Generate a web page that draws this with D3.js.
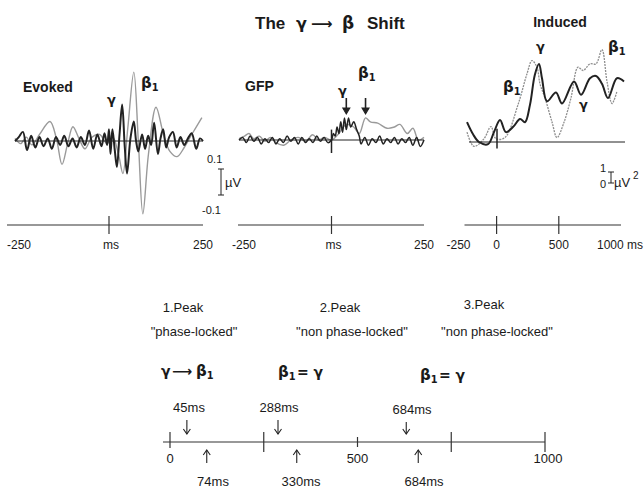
<!DOCTYPE html>
<html>
<head>
<meta charset="utf-8">
<script src="https://cdn.jsdelivr.net/npm/d3@7"></script>
<style>
  body { margin: 0; background: #fff; }
  text { font-family: "Liberation Sans", Arial, sans-serif; fill: #1a1a1a; }
  .bold { font-weight: bold; }
  .greek { font-family: "DejaVu Sans", sans-serif; font-weight: bold; }
</style>
</head>
<body>
<svg id="chart"></svg>
<script>
let w = 644;
let h = 490;
let svg;

// Evoked panel: [ms, µV]
let evokedGamma = [
  [-250, 0], [-240, 0.03], [-229, 0.07], [-218, -0.07], [-207, 0.04], [-196, -0.05],
  [-185, 0.03], [-174, -0.04], [-163, 0.02], [-152, -0.06], [-141, 0.03], [-130, -0.03],
  [-119, 0.04], [-108, -0.04], [-97, 0.02], [-86, -0.05], [-75, 0.03], [-64, -0.03],
  [-53, 0.08], [-42, -0.06], [-31, 0.05], [-20, -0.04], [-12, 0.06], [-5, -0.03],
  [0, 0.09], [4, -0.1], [9, 0.09], [15, -0.06], [21, -0.2], [28, 0.05], [35, 0.28],
  [42, -0.05], [48, -0.25], [57, 0.02], [66, 0.15], [72, 0.0], [78, -0.08], [88, 0.05],
  [96, -0.06], [104, 0.04], [112, -0.03], [120, 0.14], [130, -0.1], [137, 0.02],
  [144, 0.09], [152, -0.05], [160, 0.03], [170, 0.07], [180, -0.05], [190, 0.03],
  [200, -0.03], [210, 0.02], [220, 0.06], [232, -0.06], [242, 0.02], [250, 0]
];
let evokedBeta = [
  [-250, 0.02], [-235, -0.02], [-220, 0.03], [-205, -0.03], [-185, 0.05], [-157, 0.15],
  [-140, 0.02], [-125, -0.18], [-110, -0.02], [-96, 0.11], [-80, 0.02], [-64, -0.06],
  [-45, 0.03], [-25, 0.05], [-5, -0.02], [10, 0.03], [25, -0.1], [37, -0.25], [50, 0.1],
  [66, 0.53], [78, 0.0], [90, -0.56], [105, -0.1], [125, 0.26], [145, 0.05], [162, -0.08],
  [181, -0.12], [200, -0.05], [220, 0.05], [247, 0.18]
];

// GFP panel: [ms, µV]
let gfpGamma = [
  [-250, 0], [-240, 0.02], [-230, -0.02], [-220, 0.03], [-210, -0.01], [-200, 0.02],
  [-190, -0.03], [-180, 0.01], [-170, -0.02], [-160, 0.02], [-150, -0.03], [-140, 0.01],
  [-130, -0.02], [-120, 0.03], [-110, -0.01], [-100, 0.02], [-90, -0.03], [-80, 0.02],
  [-70, -0.02], [-60, 0.01], [-50, -0.02], [-40, 0.03], [-30, -0.01], [-20, 0.02],
  [-10, -0.02], [0, 0], [5, 0.05], [10, 0.03], [15, 0.1], [20, 0.05], [25, 0.14],
  [30, 0.06], [35, 0.17], [40, 0.08], [46, 0.17], [52, 0.1], [60, 0.14], [68, 0.08],
  [75, 0.03], [80, -0.03], [90, 0.02], [100, -0.04], [110, 0.01], [120, -0.02],
  [130, 0.03], [140, -0.03], [150, 0.01], [160, -0.02], [170, 0.02], [180, -0.03],
  [190, 0.01], [200, -0.02], [210, 0.02], [220, -0.04], [230, 0.02], [240, -0.05], [250, 0]
];
let gfpBeta = [
  [-250, 0.01], [-235, 0.03], [-223, 0.05], [-210, 0.01], [-195, 0.03], [-180, -0.01],
  [-165, 0.02], [-150, -0.02], [-129, -0.04], [-110, 0.0], [-90, 0.02], [-70, -0.01],
  [-51, 0.04], [-35, 0.0], [-20, 0.02], [0, 0.0], [20, 0.05], [40, 0.12], [60, 0.1],
  [75, 0.05], [92, 0.17], [105, 0.14], [125, 0.13], [150, 0.09], [170, 0.1], [185, 0.12],
  [205, 0.05], [220, 0.09], [235, 0.0], [250, 0.02]
];

// Induced panel: [ms, µV²]
let inducedGamma = [
  [-238, 1.8], [-190, 0.7], [-143, 0], [-71, -0.2], [-24, 0.9], [24, 2.0], [71, 0.9],
  [130, 1.4], [183, 2.1], [222, 1.8], [262, 3.4], [300, 6.1], [333, 7.1], [357, 5.8],
  [397, 3.7], [468, 4.5], [516, 3.5], [611, 5.5], [667, 4.3], [738, 5.8], [786, 6.0],
  [833, 5.3], [881, 4.0], [952, 5.8], [1008, 5.5]
];
let inducedBeta = [
  [-238, 0.9], [-183, -0.4], [-103, 0.3], [-48, 1.4], [-8, 0.3], [63, 0.4], [167, 3.4],
  [238, 6.2], [278, 7.4], [317, 6.8], [341, 5.3], [381, 4.0], [437, 1.8], [476, 0.4],
  [532, 1.8], [587, 4.0], [643, 6.8], [683, 6.5], [738, 7.1], [786, 7.1], [833, 8.4],
  [873, 5.5], [913, 3.5], [952, 4.6]
];

// Peak summary timeline
let peakNames = ['1.Peak', '2.Peak', '3.Peak'];
let peakKinds = ['"phase-locked"', '"non phase-locked"', '"non phase-locked"'];
let gammaLabels = ['45ms', '288ms', '684ms'];
let gammaArrows = [45, 288, 630];
let betaLabels = ['74ms', '330ms', '684ms'];
let betaArrows = [98, 338, 662];
let timelineTicks = [0, 250, 500, 750, 1000];
let timelineLabels = [0, 500, 1000];

function drawCurve(data, x, y, color, width, dash) {
  let line = d3.line()
    .x(d => x(d[0]))
    .y(d => y(d[1]))
    .curve(d3.curveCatmullRom);
  svg.append('path')
    .attr('d', line(data))
    .attr('fill', 'none')
    .attr('stroke', color)
    .attr('stroke-width', width)
    .attr('stroke-dasharray', dash || null)
    .attr('stroke-linejoin', 'round');
}

function timeAxis(x, yPos, ticks, pad) {
  let r = x.range();
  svg.append('line')
    .attr('x1', r[0] - pad).attr('x2', r[1])
    .attr('y1', yPos).attr('y2', yPos)
    .attr('stroke', '#333').attr('stroke-width', 1.2);
  svg.selectAll(null)
    .data(ticks)
    .enter()
    .append('line')
    .attr('x1', d => x(d)).attr('x2', d => x(d))
    .attr('y1', yPos - 9).attr('y2', yPos + 9)
    .attr('stroke', '#333').attr('stroke-width', 1.2);
}

function label(x, y, str, size, cls, anchor) {
  return svg.append('text')
    .attr('x', x).attr('y', y)
    .attr('font-size', size)
    .attr('class', cls || null)
    .attr('text-anchor', anchor || 'middle')
    .text(str);
}

function greek(x, y, str, size, sub) {
  let t = svg.append('text')
    .attr('x', x).attr('y', y)
    .attr('font-size', size)
    .attr('class', 'greek');
  t.append('tspan').text(str);
  if (sub) t.append('tspan').attr('font-size', size * 0.65).attr('dy', 3).text(sub);
  return t;
}

function drawArrow(x, y0, y1, dir, filled) {
  let s = dir === 'down' ? -1 : 1;
  svg.append('line').attr('x1', x).attr('x2', x)
    .attr('y1', y0).attr('y2', y1 + (filled ? s * 3 : 0)).attr('stroke', '#222').attr('stroke-width', filled ? 1.6 : 1.1);
  let hw = filled ? 3.5 : 3.5;
  let hl = filled ? 6 : 5;
  svg.append('path')
    .attr('d', `M${x - hw},${y1 + s * hl} L${x},${y1} L${x + hw},${y1 + s * hl}` + (filled ? 'Z' : ''))
    .attr('fill', filled ? '#222' : 'none')
    .attr('stroke', '#222').attr('stroke-width', 1.1);
}

function initGraph() {
  svg = d3.select('#chart')
    .attr('width', w)
    .attr('height', h);

  // title
  label(255, 29, 'The', 17, 'bold', 'start');
  greek(296, 29, 'γ', 16);
  greek(311, 29, '⟶', 15);
  greek(342, 29, 'β', 17);
  label(367, 29, 'Shift', 17, 'bold', 'start');

  // ---- Evoked ----
  let xE = d3.scaleLinear().domain([-250, 250]).range([15, 203]);
  let yE = d3.scaleLinear().domain([-1, 1]).range([141 + 130, 141 - 130]);
  drawCurve(evokedBeta, xE, yE, '#9a9a9a', 1.4);
  svg.append('line').attr('x1', xE(-250)).attr('x2', xE(250))
    .attr('y1', yE(0)).attr('y2', yE(0)).attr('stroke', '#222').attr('stroke-width', 1);
  drawCurve(evokedGamma, xE, yE, '#222', 2);
  label(23, 92, 'Evoked', 14, 'bold', 'start');
  greek(107, 104, 'γ', 13);
  greek(141, 88, 'β', 15, '1');

  // scale bar (µV)
  let barX = 221;
  svg.append('line').attr('x1', barX).attr('x2', barX)
    .attr('y1', yE(0.1) + 41).attr('y2', yE(-0.1) + 41).attr('stroke', '#222');
  [yE(0.1) + 41, yE(-0.1) + 41].forEach(v => {
    svg.append('line').attr('x1', barX - 3).attr('x2', barX + 3)
      .attr('y1', v).attr('y2', v).attr('stroke', '#222');
  });
  label(207, 163, '0.1', 11, null, 'start');
  label(225, 187, 'µV', 13, null, 'start');
  label(202, 214, '-0.1', 11, null, 'start');

  // ---- GFP ----
  let xG = d3.scaleLinear().domain([-250, 250]).range([239, 424]);
  let yG = d3.scaleLinear().domain([-1, 1]).range([140 + 130, 140 - 130]);
  drawCurve(gfpBeta, xG, yG, '#9a9a9a', 1.4);
  svg.append('line').attr('x1', xG(-250)).attr('x2', xG(250))
    .attr('y1', yG(0)).attr('y2', yG(0)).attr('stroke', '#222').attr('stroke-width', 1);
  drawCurve(gfpGamma, xG, yG, '#222', 1.5);
  svg.append('line').attr('x1', xG(0)).attr('x2', xG(0))
    .attr('y1', yG(0.08)).attr('y2', yG(-0.1)).attr('stroke', '#222').attr('stroke-width', 1.5);
  label(245, 91, 'GFP', 14, 'bold', 'start');
  greek(338, 95, 'γ', 13);
  greek(358, 78, 'β', 15, '1');
  drawArrow(xG(40), 98, 114, 'down', true);
  drawArrow(xG(92), 98, 114, 'down', true);

  // ---- Induced ----
  let xI = d3.scaleLinear().domain([-250, 1000]).range([465.5, 623]);
  let yI = d3.scaleLinear().domain([0, 1]).range([142, 131]);
  drawCurve(inducedBeta, xI, yI, '#8f8f8f', 1.3, '2,1');
  svg.append('line').attr('x1', 469).attr('x2', 625)
    .attr('y1', yI(0)).attr('y2', yI(0)).attr('stroke', '#222').attr('stroke-width', 1);
  drawCurve(inducedGamma, xI, yI, '#222', 2);
  svg.append('line').attr('x1', xI(0)).attr('x2', xI(0))
    .attr('y1', yI(1.2)).attr('y2', yI(-0.6)).attr('stroke', '#222').attr('stroke-width', 1.5);
  label(560, 27, 'Induced', 14, 'bold');
  greek(536, 51, 'γ', 13);
  greek(503, 92, 'β', 15, '1');
  greek(608, 52, 'β', 15, '1');
  greek(579, 109, 'γ', 13);

  // scale bar (µV²)
  let bx = 611;
  svg.append('line').attr('x1', bx).attr('x2', bx)
    .attr('y1', yI(1) + 41).attr('y2', yI(0) + 41).attr('stroke', '#222');
  [yI(1) + 41, yI(0) + 41].forEach(v => {
    svg.append('line').attr('x1', bx - 3).attr('x2', bx + 3)
      .attr('y1', v).attr('y2', v).attr('stroke', '#222');
  });
  label(603, 172, '1', 11);
  label(603, 188, '0', 11);
  label(614, 187, 'µV', 13, null, 'start');
  label(633, 179, '2', 10, null, 'start');

  // ---- time axes ----
  timeAxis(xE, 225, [0], 8);
  label(xE(-250) + 4, 249, '-250', 12);
  label(xE(0) + 2, 249, 'ms', 12);
  label(xE(250), 249, '250', 12);

  timeAxis(xG, 225, [0], 1);
  label(xG(-250) + 5, 249, '-250', 12);
  label(xG(0) + 2, 249, 'ms', 12);
  label(xG(250), 249, '250', 12);

  let xIa = d3.scaleLinear().domain([-250, 1000]).range([465.5, 621]);
  timeAxis(xIa, 225, [0, 500], 1);
  label(xIa(-250) - 7, 249, '-250', 12);
  label(xIa(0), 249, '0', 12);
  label(xIa(500), 249, '500', 12);
  label(597, 249, '1000 ms', 12, null, 'start');

  // ---- peak summary ----
  let xT = d3.scaleLinear().domain([0, 1000]).range([170, 545]);
  let peakX = [183, 340, 484];
  let kindX = [194, 352, 497];
  peakNames.forEach((d, i) => label(peakX[i], 312 - (i === 2 ? 3 : 0), d, 13));
  peakKinds.forEach((d, i) => label(kindX[i], 336, d, 13));

  // relations
  greek(161, 376, 'γ', 14);
  greek(172, 376, '⟶', 14);
  greek(196, 376, 'β', 15, '1');
  greek(278, 377, 'β', 15, '1');
  greek(297, 377, '= γ', 14);
  greek(420, 380, 'β', 15, '1');
  greek(439, 380, '= γ', 14);

  let ty = 442;
  svg.append('line').attr('x1', xT(0) - 7).attr('x2', xT(1000))
    .attr('y1', ty).attr('y2', ty).attr('stroke', '#333').attr('stroke-width', 1.2);
  svg.selectAll(null)
    .data(timelineTicks)
    .enter()
    .append('line')
    .attr('x1', d => xT(d)).attr('x2', d => xT(d))
    .attr('y1', d => d === 500 ? ty - 5 : ty - 10)
    .attr('y2', d => d === 500 ? ty + 5 : (d === 0 ? ty + 6 : ty + 10))
    .attr('stroke', '#333').attr('stroke-width', 1.2);
  timelineLabels.forEach(d => label(xT(d) + (d === 1000 ? 3 : 0), 463, d, 13));

  gammaArrows.forEach((d, i) => {
    drawArrow(xT(d), 420 + (i === 2 ? 2 : 0), 434, 'down');
  });
  let gLabX = [189, 279, 412];
  gammaLabels.forEach((d, i) => label(gLabX[i], 412 + (i === 2 ? 2 : 0), d, 13));

  betaArrows.forEach(d => {
    drawArrow(xT(d), 463, 450, 'up');
  });
  let bLabX = [213, 301, 424];
  betaLabels.forEach((d, i) => label(bLabX[i], 486, d, 13));
}

window.onload = initGraph;
</script>
</body>
</html>
